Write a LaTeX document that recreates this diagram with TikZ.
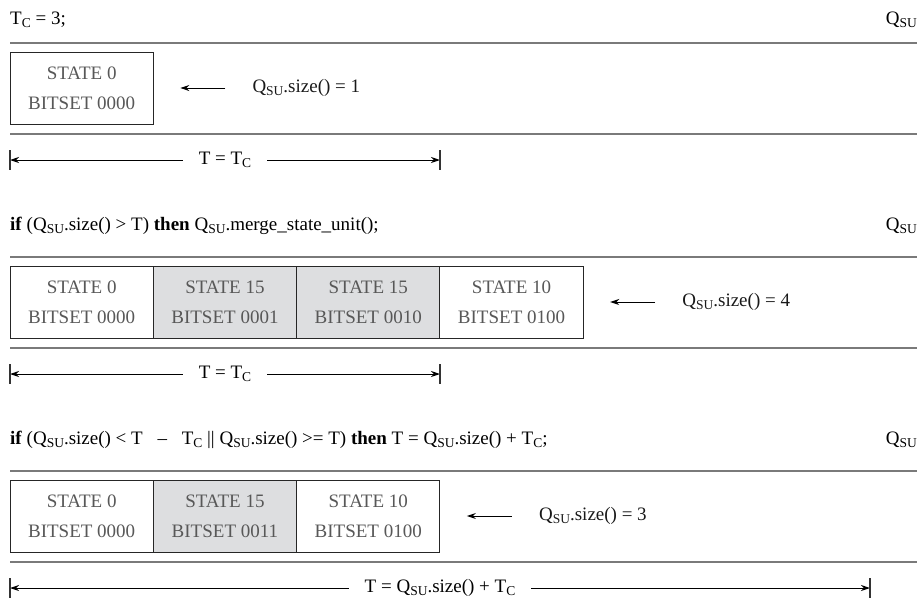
\documentclass[tikz,border=0pt]{standalone}
\usepackage{fontspec}
\setmainfont{Liberation Serif}
\usepackage{tikz}
\usetikzlibrary{positioning}
\usetikzlibrary{arrows.meta}
\definecolor{rulegray}{RGB}{122,122,122}
\definecolor{mergegray}{RGB}{221,222,224}
\definecolor{boxtext}{RGB}{88,88,88}
\newcommand{\lowsub}[1]{\raisebox{-3pt}{\fontsize{13.5}{14}\selectfont #1}}
\newcommand{\Qsu}{Q\lowsub{SU}}
\tikzstyle{heading} = [anchor=west, inner sep=0pt, font=\fontsize{19}{23}\selectfont]
\tikzstyle{queue} = [anchor=east, inner sep=0pt, font=\fontsize{19}{23}\selectfont]
\tikzstyle{stateunit} = [rectangle, draw=black!85, line width=1pt, minimum width=143.3pt, minimum height=72pt, outer sep=0pt, align=center, text=boxtext, font=\fontsize{19}{30}\selectfont]
\tikzstyle{merged} = [stateunit, fill=mergegray]
\tikzstyle{sizelabel} = [inner sep=0pt, text=black!90, font=\fontsize{19}{23}\selectfont]
\tikzstyle{spanlabel} = [inner xsep=16pt, inner ysep=0pt, font=\fontsize{19}{23}\selectfont]
\tikzstyle{sepline} = [rulegray, line width=2.2pt]
\tikzstyle{arrow} = [line width=1pt, -{Stealth[length=9pt,width=6pt]}]
\tikzstyle{endbar} = [black!80, line width=1.2pt]

\begin{document}
\begin{tikzpicture}[x=1pt, y=-1pt]
\useasboundingbox (0,0) rectangle (917,598);

\node (h1) [heading] at (10,20) {T\lowsub{C} = 3;};
\node (q1) [queue] at (917,20) {\Qsu};
\draw [sepline] (10,43) -- (917,43);
\node (s10) [stateunit, anchor=north west] at (10,52) {STATE 0\\BITSET 0000};
\node (n1) [sizelabel, right=99pt of s10] {\Qsu.size() = 1};
\draw [sepline] (10,134) -- (917,134);
\coordinate (l1) at (10,160);
\coordinate (r1) at (440,160);
\path (l1) -- node (t1) [spanlabel] {T = T\lowsub{C}} (r1);

\node (h2) [heading] at (10,226) {\textbf{if} (\Qsu.size() > T) \textbf{then} \Qsu.merge\_state\_unit();};
\node (q2) [queue] at (917,226) {\Qsu};
\draw [sepline] (10,257) -- (917,257);
\node (s20) [stateunit, anchor=north west] at (10,266) {STATE 0\\BITSET 0000};
\node (s21) [merged, right=0pt of s20] {STATE 15\\BITSET 0001};
\node (s22) [merged, right=0pt of s21] {STATE 15\\BITSET 0010};
\node (s23) [stateunit, right=0pt of s22] {STATE 10\\BITSET 0100};
\node (n2) [sizelabel, right=99pt of s23] {\Qsu.size() = 4};
\draw [sepline] (10,348) -- (917,348);
\coordinate (l2) at (10,374);
\coordinate (r2) at (440,374);
\path (l2) -- node (t2) [spanlabel] {T = T\lowsub{C}} (r2);

\node (h3) [heading] at (10,440) {\textbf{if} (\Qsu.size() < T \hspace{10pt}– \hspace{10pt}T\lowsub{C} \textbar\textbar\ \Qsu.size() >= T) \textbf{then} T = \Qsu.size() + T\lowsub{C};};
\node (q3) [queue] at (917,440) {\Qsu};
\draw [sepline] (10,471) -- (917,471);
\node (s30) [stateunit, anchor=north west] at (10,480) {STATE 0\\BITSET 0000};
\node (s31) [merged, right=0pt of s30] {STATE 15\\BITSET 0011};
\node (s32) [stateunit, right=0pt of s31] {STATE 10\\BITSET 0100};
\node (n3) [sizelabel, right=99pt of s32] {\Qsu.size() = 3};
\draw [sepline] (10,562) -- (917,562);
\coordinate (l3) at (10,588);
\coordinate (r3) at (870,588);
\path (l3) -- node (t3) [spanlabel] {T = \Qsu.size() + T\lowsub{C}} (r3);

\draw [arrow, shorten <=27pt, shorten >=27pt] (n1) -- (s10);
\draw [arrow, shorten <=27pt, shorten >=27pt] (n2) -- (s23);
\draw [arrow, shorten <=27pt, shorten >=27pt] (n3) -- (s32);

\draw [arrow] (t1) -- (l1);
\draw [arrow] (t1) -- (r1);
\draw [arrow] (t2) -- (l2);
\draw [arrow] (t2) -- (r2);
\draw [arrow] (t3) -- (l3);
\draw [arrow] (t3) -- (r3);
\foreach \e in {l1,r1,l2,r2,l3,r3}
  \draw [endbar] (\e) ++(0,-10) -- ++(0,20);

\end{tikzpicture}
\end{document}
